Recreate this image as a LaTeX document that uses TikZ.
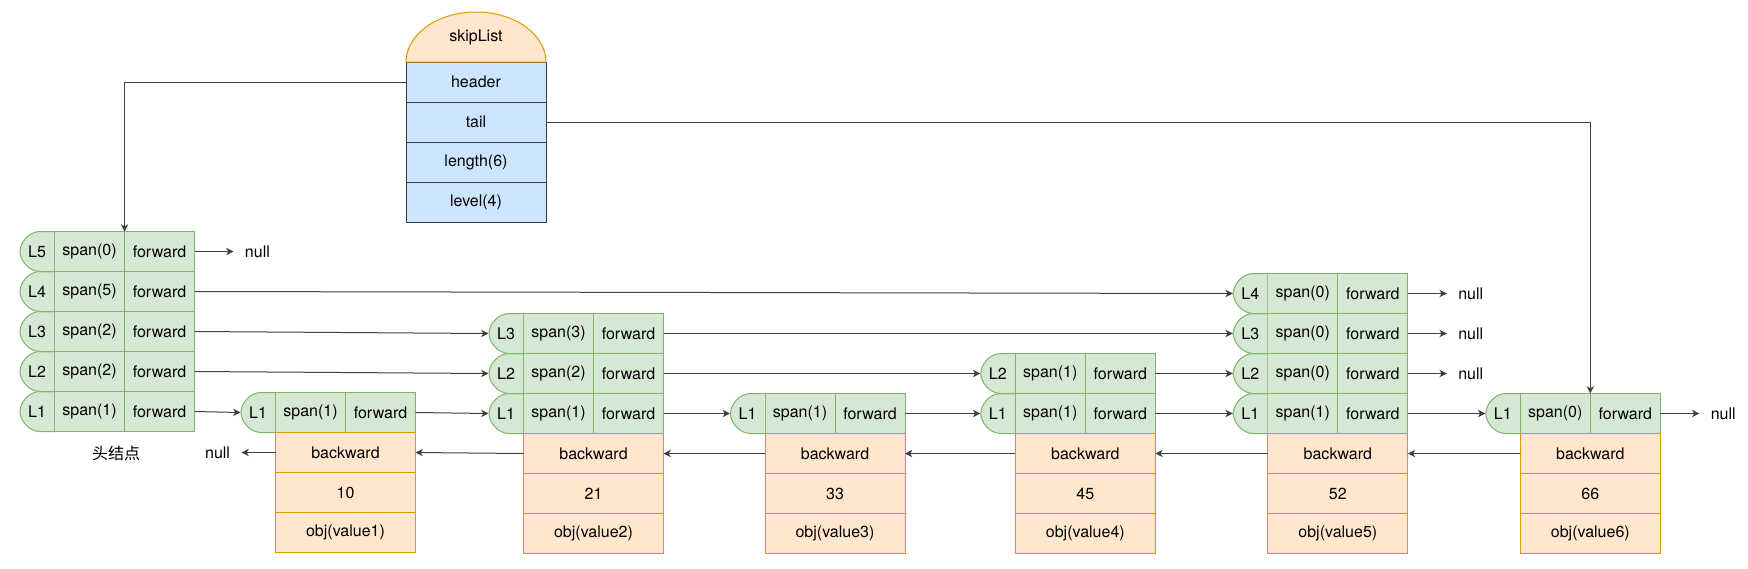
\documentclass[tikz,border=0pt]{standalone}
\usepackage{fontspec}
\setmainfont{TeX Gyre Heros}
\newfontfamily\cjkfont{Noto Sans CJK SC}
\usetikzlibrary{arrows.meta,positioning}

\definecolor{grnfill}{HTML}{D5E8D4}
\definecolor{grnline}{HTML}{82B366}
\definecolor{orgfill}{HTML}{FFE6CC}
\definecolor{orgline}{HTML}{D79B00}
\definecolor{blufill}{HTML}{CCE5FF}
\definecolor{bluline}{HTML}{36393D}
\definecolor{lncol}{HTML}{404040}

\begin{document}
\begin{tikzpicture}[x=0.75pt, y=-0.75pt,
  every node/.style={font=\fontsize{12}{14}\selectfont},
  cell/.style={draw=grnline, fill=grnfill, line width=.75pt,
    minimum width=52.5pt, minimum height=30pt, inner sep=0pt, outer sep=0pt},
  lvl/.style={minimum width=26.25pt, minimum height=30.75pt, inner sep=0pt, outer sep=0pt,
    path picture={
      \draw[draw=grnline, fill=grnfill, line width=.75pt]
        ([xshift=-.375pt, yshift=-.375pt]path picture bounding box.north east)
        -- ([xshift=15.375pt, yshift=-.375pt]path picture bounding box.north west)
        .. controls ([xshift=7pt, yshift=-.375pt]path picture bounding box.north west)
        and ([xshift=.375pt, yshift=-8.7pt]path picture bounding box.north west)
        .. ([xshift=.375pt]path picture bounding box.west)
        .. controls ([xshift=.375pt, yshift=8.7pt]path picture bounding box.south west)
        and ([xshift=7pt, yshift=.375pt]path picture bounding box.south west)
        .. ([xshift=15.375pt, yshift=.375pt]path picture bounding box.south west)
        -- ([xshift=-.375pt, yshift=.375pt]path picture bounding box.south east);}},
  data/.style={draw=orgline, fill=orgfill, line width=.75pt,
    minimum width=105pt, minimum height=30pt, inner sep=0pt, outer sep=0pt},
  field/.style={draw=bluline, fill=blufill, line width=.75pt,
    minimum width=105pt, minimum height=30pt, inner sep=0pt, outer sep=0pt},
  capbox/.style={minimum width=105.75pt, minimum height=38.25pt, inner sep=0pt, outer sep=0pt,
    path picture={
      \draw[draw=orgline, fill=orgfill, line width=.75pt]
        ([xshift=.375pt, yshift=.375pt]path picture bounding box.south west)
        .. controls ([xshift=.375pt, yshift=21pt]path picture bounding box.south west)
        and ([xshift=-29pt, yshift=-.375pt]path picture bounding box.north)
        .. ([yshift=-.375pt]path picture bounding box.north)
        .. controls ([xshift=29pt, yshift=-.375pt]path picture bounding box.north)
        and ([xshift=-.375pt, yshift=21pt]path picture bounding box.south east)
        .. ([xshift=-.375pt, yshift=.375pt]path picture bounding box.south east) -- cycle;}},
  link/.style={-{Stealth[length=5.5pt,width=5.5pt,inset=1.6pt]}, draw=lncol, line width=.75pt},
  nil/.style={inner xsep=8.6pt, inner ysep=0pt, outer sep=0pt}
]
\useasboundingbox (0,0) rectangle (1748,568);

% skipList struct
\node[field] (hdr) at (476,82) {header};
\node[field, below=0pt of hdr] (tl) {tail};
\node[field, below=0pt of tl] (len) {length(6)};
\node[field, below=0pt of len] (lev) {level(4)};
\node[capbox, above=-.375pt of hdr] (sl) {skipList};

% head node
\node[cell] (hs1) at (89.5,411.5) {span(1)};
\node[cell, above=0pt of hs1] (hs2) {span(2)};
\node[cell, above=0pt of hs2] (hs3) {span(2)};
\node[cell, above=0pt of hs3] (hs4) {span(5)};
\node[cell, above=0pt of hs4] (hs5) {span(0)};
\node[cell, right=0pt of hs1] (hf1) {forward};
\node[cell, right=0pt of hs2] (hf2) {forward};
\node[cell, right=0pt of hs3] (hf3) {forward};
\node[cell, right=0pt of hs4] (hf4) {forward};
\node[cell, right=0pt of hs5] (hf5) {forward};
\node[lvl, left=0pt of hs1] (hl1) {L1};
\node[lvl, left=0pt of hs2] (hl2) {L2};
\node[lvl, left=0pt of hs3] (hl3) {L3};
\node[lvl, left=0pt of hs4] (hl4) {L4};
\node[lvl, left=0pt of hs5] (hl5) {L5};
\node (hcap) at (116,453) {\cjkfont 头结点};

% node 1
\node[cell] (as1) at (310.5,412.5) {span(1)};
\node[cell, right=0pt of as1] (af1) {forward};
\node[lvl, left=0pt of as1] (al1) {L1};
\node[data, below=0pt of as1.south east] (abw) {backward};
\node[data, below=0pt of abw] (akey) {10};
\node[data, below=0pt of akey] (aobj) {obj(value1)};

% node 2
\node[cell] (bs1) at (558.5,413.5) {span(1)};
\node[cell, above=0pt of bs1] (bs2) {span(2)};
\node[cell, above=0pt of bs2] (bs3) {span(3)};
\node[cell, right=0pt of bs1] (bf1) {forward};
\node[cell, right=0pt of bs2] (bf2) {forward};
\node[cell, right=0pt of bs3] (bf3) {forward};
\node[lvl, left=0pt of bs1] (bl1) {L1};
\node[lvl, left=0pt of bs2] (bl2) {L2};
\node[lvl, left=0pt of bs3] (bl3) {L3};
\node[data, below=0pt of bs1.south east] (bbw) {backward};
\node[data, below=0pt of bbw] (bkey) {21};
\node[data, below=0pt of bkey] (bobj) {obj(value2)};

% node 3
\node[cell] (cs1) at (800,413.5) {span(1)};
\node[cell, right=0pt of cs1] (cf1) {forward};
\node[lvl, left=0pt of cs1] (cl1) {L1};
\node[data, below=0pt of cs1.south east] (cbw) {backward};
\node[data, below=0pt of cbw] (ckey) {33};
\node[data, below=0pt of ckey] (cobj) {obj(value3)};

% node 4
\node[cell] (ds1) at (1050.3,413.5) {span(1)};
\node[cell, above=0pt of ds1] (ds2) {span(1)};
\node[cell, right=0pt of ds1] (df1) {forward};
\node[cell, right=0pt of ds2] (df2) {forward};
\node[lvl, left=0pt of ds1] (dl1) {L1};
\node[lvl, left=0pt of ds2] (dl2) {L2};
\node[data, below=0pt of ds1.south east] (dbw) {backward};
\node[data, below=0pt of dbw] (dkey) {45};
\node[data, below=0pt of dkey] (dobj) {obj(value4)};

% node 5
\node[cell] (es1) at (1302.8,413.5) {span(1)};
\node[cell, above=0pt of es1] (es2) {span(0)};
\node[cell, above=0pt of es2] (es3) {span(0)};
\node[cell, above=0pt of es3] (es4) {span(0)};
\node[cell, right=0pt of es1] (ef1) {forward};
\node[cell, right=0pt of es2] (ef2) {forward};
\node[cell, right=0pt of es3] (ef3) {forward};
\node[cell, right=0pt of es4] (ef4) {forward};
\node[lvl, left=0pt of es1] (el1) {L1};
\node[lvl, left=0pt of es2] (el2) {L2};
\node[lvl, left=0pt of es3] (el3) {L3};
\node[lvl, left=0pt of es4] (el4) {L4};
\node[data, below=0pt of es1.south east] (ebw) {backward};
\node[data, below=0pt of ebw] (ekey) {52};
\node[data, below=0pt of ekey] (eobj) {obj(value5)};

% node 6
\node[cell] (fs1) at (1555.3,413.5) {span(0)};
\node[cell, right=0pt of fs1] (ff1) {forward};
\node[lvl, left=0pt of fs1] (fl1) {L1};
\node[data, below=0pt of fs1.south east] (fbw) {backward};
\node[data, below=0pt of fbw] (fkey) {66};
\node[data, below=0pt of fkey] (fobj) {obj(value6)};

% null ends
\node[nil, right=29.25pt of hf5] (hnil) {null};
\node[nil, right=29.25pt of ef4] (enil4) {null};
\node[nil, right=29.25pt of ef3] (enil3) {null};
\node[nil, right=29.25pt of ef2] (enil2) {null};
\node[nil, right=29.25pt of ff1] (fnil) {null};
\node[nil, left=25.5pt of abw] (anil) {null};

% pointers
\draw[link] (hdr.west) -| (hf5.north west);
\draw[link] (tl.east) -| (ff1.north west);
\draw[link] (hf5.east) -- (hnil.west);
\draw[link] (hf4.east) -- (el4.west);
\draw[link] (hf3.east) -- (bl3.west);
\draw[link] (hf2.east) -- (bl2.west);
\draw[link] (hf1.east) -- (al1.west);
\draw[link] (af1.east) -- (bl1.west);
\draw[link] (bf3.east) -- (el3.west);
\draw[link] (bf2.east) -- (dl2.west);
\draw[link] (bf1.east) -- (cl1.west);
\draw[link] (cf1.east) -- (dl1.west);
\draw[link] (df2.east) -- (el2.west);
\draw[link] (df1.east) -- (el1.west);
\draw[link] (ef4.east) -- (enil4.west);
\draw[link] (ef3.east) -- (enil3.west);
\draw[link] (ef2.east) -- (enil2.west);
\draw[link] (ef1.east) -- (fl1.west);
\draw[link] (ff1.east) -- (fnil.west);

% backward pointers
\draw[link] (abw.west) -- (anil.east);
\draw[link] (bbw.west) -- (abw.east);
\draw[link] (cbw.west) -- (bbw.east);
\draw[link] (dbw.west) -- (cbw.east);
\draw[link] (ebw.west) -- (dbw.east);
\draw[link] (fbw.west) -- (ebw.east);
\end{tikzpicture}
\end{document}
